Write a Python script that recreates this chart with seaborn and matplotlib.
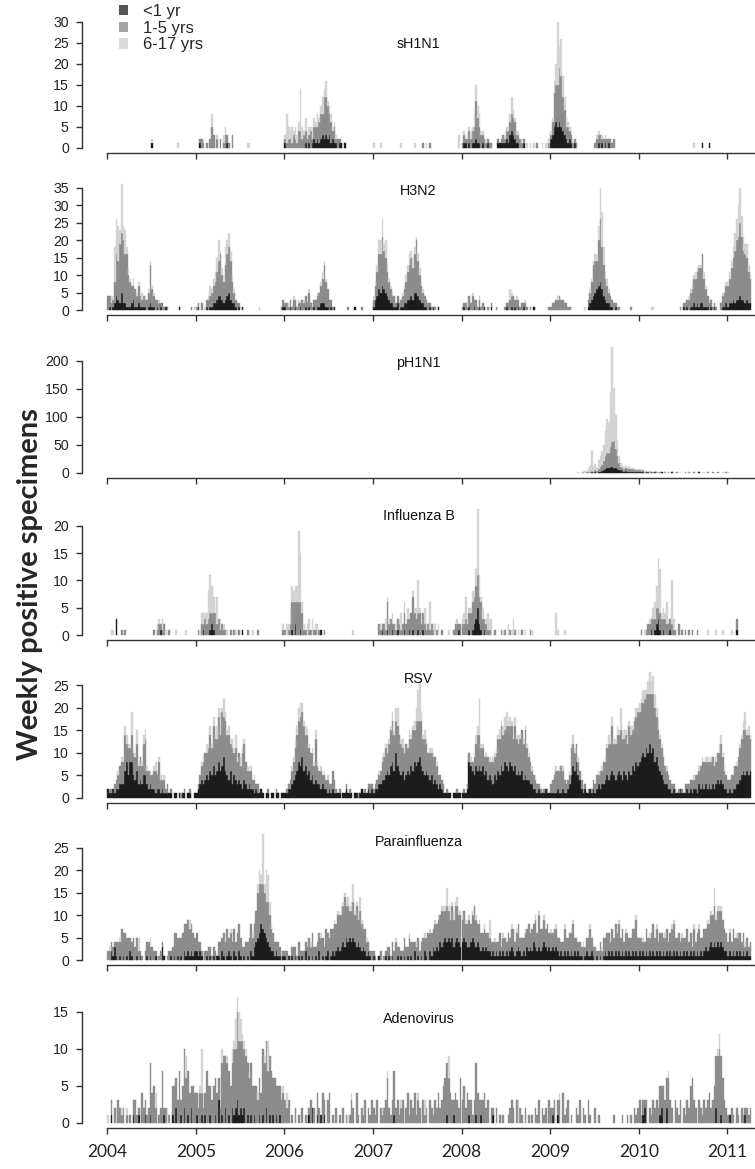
import numpy as np
import matplotlib
matplotlib.use("Agg")
import matplotlib.pyplot as plt
import seaborn as sns
from matplotlib.patches import Patch

# weekly positive specimens, one line per year (2004 ... 2011), one base-36 char per week
# three age groups per virus: <1 yr, 1-5 yrs, 6-17 yrs
SH1N1_U1 = (
    "0000 0000 0000 0000 0000 0000 0010",
    "0010 0000 0000 0000 0010",
    "1000 0000 0000 1010 1212 1232 3231 2110 1101",
    "",
    "0110 1011 2110 1001 0000 0111 1121 3432 1100 1000",
    "2356 5654 3212 1010 0000 0000 0000 1010 1010",
    "0000 0000 0000 0000 0000 0000 0000 0000 0000 0100 0100",
    "",
)
SH1N1_1TO5 = (
    "",
    "0012 1010 2530 2020 1321 0300",
    "1122 1321 4423 3224 1343 565a 9855 2412 1000",
    "0000 0000 0000 0000 0000 0000 0000 0100 0100",
    "1212 3234 9643 2211 1100 0101 2123 3444 2221 1000 0000 1000 0001",
    "1389 adc8 6342 2111 0000 0000 0012 2312 1212 1200",
    "",
    "",
)
SH1N1_6TO17 = (
    "0000 0000 0000 0000 0000 0000 0010 0000 0000 0000 0100",
    "0000 1000 0300 1000 2200 0000 0000 0011",
    "1732 4132 2a31 3121 2213 1242 4122 1110",
    "1000 1000 0000 0000 1000 0000 1000 0001 0000 0000 0000 0000 0030",
    "0101 1213 4331 1010 0000 0000 0111 2421 1101 0010 1010 0001 0111",
    "1135 f595 3211 0100 0000 0000 0001 1010 1000",
    "0000 0000 0000 0000 0000 0000 0000 0000 1000",
    "",
)

H3N2_U1 = (
    "0101 2432 5221 1123 1121 1110 1211 0101 0010 0000 0010",
    "0100 0010 1122 3443 2345 3221 0101 0000 0000 0000 0000 0000 0001",
    "1001 0010 0100 1010 0101 1222 1101 0100 0000 0000 0100",
    "1346 5765 4322 1120 1122 3343 5543 2211 0101 0010",
    "0100 1001 0010 0100 0100 0000 0010 0101 0100 1000 0010",
    "0000 0000 0000 0000 0000 0012 3456 7864 3221 1010",
    "0000 0000 0000 0000 0000 0000 0010 1011 2121 2211 1010 1000 0112",
    "1223 2334 3323 22",
)
H3N2_1TO5 = (
    "4322 6cbh hief 9754 5353 2323 4b53 3221 2101 0000 0000 0000 0100",
    "1102 0023 3456 8ac7 6acd b632 2100 0000 0000 0000 0000 0000 0012",
    "1212 1321 2132 3242 1233 457b 7532 1000 0000 0100 0000 0100",
    "247a beba 7542 3122 2346 8ab9 bfa7 5332 2110 1000",
    "1121 3242 3121 2001 0100 1000 0112 3342 3212 1210 1000 0000 0001",
    "1223 3433 2211 0000 0000 0023 5998 dic9 6533 2211 1000 0001",
    "0000 0000 0000 0000 0000 0000 1012 2345 789b ae85 3221 1100 2345",
    "67ac fhil ieec 97",
)
H3N2_6TO17 = (
    "0021 aaa4 e472 2102 0110 2010 1111 0010 0000 0000 0000 0000 0001",
    "0000 0101 3123 4612 2544 3210 0000 0000 0000 0100",
    "0010 0100 1001 0010 0001 0121 1000",
    "1124 4525 2111 0000 0112 2323 2122 1100",
    "0001 0010 0010 0000 0000 0000 0000 3100 1000 0100",
    "0000 1000 0000 1000 0000 1001 1122 49a5 2210",
    "0000 0001 1000 0000 0000 0000 0000 0112 1211 1021 0000 0000 0101",
    "1223 569a 6434 21",
)

# pandemic counts run past 35, so 2009 is written out as plain numbers
PH1N1_U1 = (
    "", "", "", "", "",
    "0000 0000 0000 0000 0000 0000 1010 2235 788a a987 5432 3222 1212",
    "1110 1101 0100 0100 0001 0000 0000 0000 0001",
    "",
)
PH1N1_1TO5 = (
    "", "", "", "", "",
    [0, 0, 0, 0, 0, 0, 0, 0, 0, 0, 0, 0, 0, 0, 0, 0,
     0, 0, 0, 1, 0, 1, 1, 2, 2, 2, 3, 3, 5, 8, 10, 15,
     22, 27, 28, 35, 45, 48, 35, 22, 12, 7, 6, 5, 6, 4, 5, 4,
     5, 3, 4, 3],
    "3232 2121 2110 2001 0101 0010 0001 0100 1001 0000 1001 0010 0001",
    "",
)
PH1N1_6TO17 = (
    "", "", "", "", "",
    [0, 0, 0, 0, 0, 0, 0, 0, 0, 0, 0, 0, 0, 0, 0, 0,
     1, 0, 2, 1, 3, 2, 6, 10, 35, 8, 12, 6, 15, 20, 25, 30,
     45, 60, 55, 100, 170, 95, 60, 30, 12, 6, 5, 4, 3, 4, 3, 2,
     2, 3, 2, 1],
    "2111 0110 0010 0001 0000 0000 1000 0100 0000 0010 0000 0000 0100",
    "1",
)

FLUB_U1 = (
    "0000 0300 0000 0000 0000 0000 0000 0001",
    "0000 1000 1210 0000 0000 0000 0001",
    "0000 1020 0100 0000 0000 0100",
    "0000 0100 1001 0010 0010 0101 0010 0100 0000 0000 0000 0000 0010",
    "0000 1012 3521 0100",
    "",
    "0000 0001 0123 1010 0010",
    "0000 0100",
)
FLUB_1TO5 = (
    "0000 0000 1010 0000 0000 0000 0001 0121 1200 1000",
    "0102 1323 3234 2312 1100 1010 0100 0010 0000 1000 0000 0000 0001",
    "1012 5646 6541 1011 0110 1001",
    "0002 1121 5231 2122 1232 3246 4334 2321 2121 0100 1000 0001 2212",
    "2232 3455 6655 3221 1001 0001 0100 1001 0001 0000 1000",
    "",
    "0100 1222 3232 3323 2222 1102 0101 0101 0010",
    "0000 0200",
)
FLUB_6TO17 = (
    "0011 0000 0000 0000 0000 0000 0000 0110 2010 0000 1000 0010",
    "0012 2125 7530 5020 1010 0001 0000 0000 0100 0000 0000 0000 0001",
    "0213 3233 d921 0220 3012 0000 0000 0000 0000 0000 1000",
    "0000 1002 1102 0101 3020 2001 1261 1031 0501 2020 0000 1000 0100",
    "1241 1121 3c41 2013 2300 0000 1002 0130 0100 0100 0100",
    "0004 1000 1000",
    "0001 0010 2349 8121 4008 2000 0000 0000 0000 0000 1000 0100 0100",
    "0010",
)

RSV_U1 = (
    "2112 1223 3368 5885 4634 3553 2322 1221 2111 1101 1010 1101 1001",
    "1234 3454 6575 6867 9654 6354 3432 4323 2212 1121 0110 1101 1011",
    "1122 3456 8796 7564 5343 3232 2121 2111 1011 2111 0110 1211 1212",
    "1223 3445 6578 6a76 5645 6576 8789 7656 5453 4323 2111 1101 1111",
    "1112 8765 7676 7564 5435 4657 6876 8767 5656 4544 3322 1211 1211",
    "1111 2112 1123 5768 5421 2112 1212 3233 4545 6545 6546 5465 7687",
    "89a9 baca b897 6543 3221 2111 2111 2121 2213 2323 2323 2343 4322",
    "1212 2334 5656 56",
)
RSV_1TO5 = (
    "0110 2234 5584 6365 5645 4783 4234 5363 2312 0100 0001 0100 1000",
    "0123 5657 8698 7a8c 9b9a 6857 5648 8543 4231 2000 0010 0001",
    "0112 3468 9baa 7956 5494 3423 2312 4310 1000 1010 0001 0001 0121",
    "1122 3456 4789 8798 7567 5869 7a98 a786 5656 5432 2201 0000 0100",
    "0101 2124 5875 4435 3454 6789 879a 8979 8689 8a75 5332 2110 1010",
    "2345 4564 3222 6544 3221 1010 1223 2435 4687 a789 8a97 98a9 8bac",
    "bcbd cdbd cc98 7654 3322 1101 0102 1223 2343 5565 6566 5567 8643",
    "3243 5467 89a8 97",
)
RSV_6TO17 = (
    "0000 0010 1022 1151 1310 1221 0101 2011 0100",
    "0001 1021 2121 3251 4212 1213 1021 1010 1010",
    "0000 1122 3321 2110 1121 0101 0100",
    "0001 0111 2112 1340 1210 1211 2379 2121 0111 0100",
    "0000 0101 2281 1010 1011 1121 2331 2112 1210 1111 0101",
    "0001 0101 0001 1210 1000 0000 0000 1010 1121 2112 1512 1112 1121",
    "2132 1353 4322 1110 1000 0000 0000 0000 1001 0101 1010 1102 2110",
    "0001 0101 1241 21",
)

PARA_U1 = (
    "0021 3101 0101 0210 0101 0001 0100 1000 3100 0101 0101 0212 1212",
    "2121 0010 1010 1102 1012 1021 0210 1010 2134 5687 6543 2212 1101",
    "1010 1010 1010 2010 1010 2010 1201 2123 2343 5454 5434 3232 1210",
    "1001 0001 0101 0010 1010 1010 2010 1021 0213 2324 3454 5453 4543",
    "4543 3454 3432 3232 2121 2121 2121 2321 2321 2132 3243 2323 4323",
    "2323 2121 2121 2121 2110 1211 2101 0101 2121 2121 2121 2121 2121",
    "2121 2121 2121 2121 2121 2121 2121 2121 2121 2123 2343 4343 4322",
    "1212 1212 1212 11",
)
PARA_1TO5 = (
    "2222 1343 7564 5335 3421 1023 4232 1012 1001 2135 6454 6677 6653",
    "4321 0213 2122 0343 5463 5453 6643 2435 6457 ab9a 9897 5432 3211",
    "1201 2321 3212 2343 5324 4543 6456 5767 878b 7867 8695 8645 3212",
    "1100 2011 3213 2423 1243 2534 2342 3534 6454 6576 8768 6576 8767",
    "5645 6458 6454 3534 3323 2342 3425 3453 4534 3546 3546 4754 5463",
    "4354 3423 5435 4734 2323 2346 3231 2324 3543 5465 6453 4534 5674",
    "3423 5435 6453 4534 5346 6435 2434 5342 5346 3454 6567 8678 7654",
    "3435 4354 3423 23",
)
PARA_6TO17 = (
    "0100 0001 0000 0000 0030 0000 0200 0000 0000 0000 0000 0000 2000",
    "0000 0000 0000 0000 0100 1000 0000 0000 0100 232b 2763 1000",
    "0000 0000 0000 0001 0000 0100 0010 0101 0211 1212 4112 3110 1000",
    "0000 0000 0000 0100 0000 0100 0100 0010 0100 1010 1114 1212 1211",
    "1010 1010 1010 0100 4001 0000 1000 0100 1000 0100 1001 0100 1000",
    "1001 0000 1000 1100 0001 0001 0000 0010 0001 0001 1000 1000 0010",
    "0010 0010 0010 0001 0001 1000 0100 0000 1001 0000 1010 4111 1000",
    "0100 0100 0010 00",
)

ADENO_U1 = (
    "0010 0000 0000 0001 0010 0010 0100 0000 0100 0010 2001 0201 0200",
    "1001 0100 1001 0301 0201 0212 3121 2010 1010 0101 0201 0101 0100",
    "0000 0000 0000 0010 2001 0101",
    "0000 0000 0000 1000 0000 0000 0000 0000 0000 0000 0001 0001",
    "0000 1000 1001 0000 0010",
    "0100 1000",
    "0012 0000 0000 1200 2000 0000 0000 0000 0000 0000 0000 0200 1000",
    "0100 0000 0010 00",
)
ADENO_1TO5 = (
    "0020 2032 1201 0102 3110 4221 2745 2012 7120 1045 4372 5866 4354",
    "3243 2375 4355 4327 9786 5698 ca9a 8976 7545 3549 8978 7564 5434",
    "3230 1020 1020 1013 0203 2042 0340 1020 1020 1013 2041 0213 0213",
    "2130 2123 6213 6231 2302 4132 4132 0312 0321 3242 3567 6432 4326",
    "3524 2313 7432 3423 0210 2010 1001 2320 3021 0201 0102 1302 1203",
    "2130 2304 1230 1002 1302 1031 0020 1000 0000 0100 0010 0101 0212",
    "3121 3021 3232 4353 4632 0321 3021 3256 3203 2132 3423 579a 8632",
    "1021 0210 2112 12",
)
ADENO_6TO17 = (
    "1000 0000 1001 0000 0000 0000 0000 2000 0002 0000 0000 0030",
    "0016 0000 0000 0002 0010 0214 2431 1101 0000 1000 1040 0000 0001",
    "0200 0000 0000 0000 0000 0000 0000 0000 0000 0101 0000 0010",
    "0000 0100 1000 0000 1000 0000 0010 0020 0000 0000 0000 3000",
    "0000 0000 0000 0000 0000 0000 0000 0000 0300",
    "0000 0100",
    "0000 0000 0000 0000 0100 0000 0000 0000 0000 0000 0000 0012",
    "",
)

PANELS = ["sH1N1", "H3N2", "pH1N1", "Influenza B", "RSV", "Parainfluenza", "Adenovirus"]
SERIES = [
    (SH1N1_U1, SH1N1_1TO5, SH1N1_6TO17),
    (H3N2_U1, H3N2_1TO5, H3N2_6TO17),
    (PH1N1_U1, PH1N1_1TO5, PH1N1_6TO17),
    (FLUB_U1, FLUB_1TO5, FLUB_6TO17),
    (RSV_U1, RSV_1TO5, RSV_6TO17),
    (PARA_U1, PARA_1TO5, PARA_6TO17),
    (ADENO_U1, ADENO_1TO5, ADENO_6TO17),
]
AGE_GROUPS = ["<1 yr", "1-5 yrs", "6-17 yrs"]
YEARS = list(range(2004, 2012))

N_WEEKS = 7 * 52 + 14


def weekly(years):
    out = np.zeros(N_WEEKS)
    for i, y in enumerate(years):
        if isinstance(y, str):
            vals = [int(ch, 36) for ch in y.replace(" ", "")]
        else:
            vals = list(y)
        vals = vals[:min(52, N_WEEKS - i * 52)]
        out[i * 52:i * 52 + len(vals)] = vals
    return out


week = np.arange(N_WEEKS)
dates = 2004 + week // 52 + (week % 52) * 7 / 365.25
bar_w = 7 / 365.25

sns.set_style("ticks")
plt.rcParams["font.family"] = ["Liberation Sans", "DejaVu Sans"]

W, H = 755, 1169
fig = plt.figure(figsize=(W / 100, H / 100), dpi=100)

bar_colors = ["#1c1c1c", "#8c8c8c", "#d3d3d3"]
key_colors = ["#555555", "#a3a3a3", "#d9d9d9"]
title_y = [0.80, 0.91, 0.845, 0.915, 0.91, 0.905, 0.80]

px_per_year = 88.6
x_left = 2004 - (107.3 - 82) / px_per_year
x_right = 2004 + (W - 107.3) / px_per_year

for i, (name, ser) in enumerate(zip(PANELS, SERIES)):
    base_px = 152.7 + 162.5 * i
    ax = fig.add_axes([82 / W, 1 - base_px / H, (W - 82) / W, 136 / H])
    d, g, l = (weekly(s) for s in ser)
    bottoms = [np.zeros(N_WEEKS), d, d + g]
    for vals, bot, col in zip([d, g, l], bottoms, bar_colors):
        m = vals > 0
        ax.bar(dates[m], vals[m], width=bar_w, bottom=bot[m], align="edge",
               color=col, edgecolor=col, linewidth=0.3)

    top = (d + g + l).max()
    ax.set_ylim(-0.04 * top, 1.04 * top)
    ax.set_xlim(x_left, x_right)
    step = 50 if top > 100 else 5
    yt = np.arange(0, 1.04 * top + 1e-9, step)
    ax.set_yticks(yt)
    ax.set_yticklabels([f"{v:g}" for v in yt])
    ax.set_xticks(YEARS)

    sns.despine(ax=ax)
    for side in ["left", "bottom"]:
        ax.spines[side].set_linewidth(1.0)
        ax.spines[side].set_color("#333333")
    ax.spines["left"].set_bounds(0, yt[-1])
    ax.spines["bottom"].set_bounds(2004, x_right)
    ax.tick_params(axis="both", direction="out", length=4.5, width=1.0,
                   color="#333333", labelcolor="#222222")
    ax.tick_params(axis="y", labelsize=10.2, pad=5)
    if i < len(PANELS) - 1:
        ax.set_xticklabels([])
    else:
        ax.set_xticklabels([str(y) for y in YEARS], fontsize=12.5,
                           family=["Lato", "DejaVu Sans"])
        ax.tick_params(axis="x", pad=7)

    ax.text(0.5, title_y[i], name, transform=ax.transAxes, ha="center",
            va="center", fontsize=10.3, color="#111111")

fig.text(30 / W, 0.5, "Weekly positive specimens", rotation=90, ha="center",
         va="center", fontsize=21, fontweight="bold",
         family=["Lato", "DejaVu Sans"])

handles = [Patch(facecolor=c, edgecolor="none") for c in key_colors]
fig.legend(handles, AGE_GROUPS, loc="upper left",
           bbox_to_anchor=(119 / W, 1 - 4 / H), frameon=False, borderpad=0,
           borderaxespad=0, handlelength=0.56, handleheight=0.56,
           handletextpad=0.9, labelspacing=0.1, fontsize=12)

fig.savefig("out.png", dpi=100)
